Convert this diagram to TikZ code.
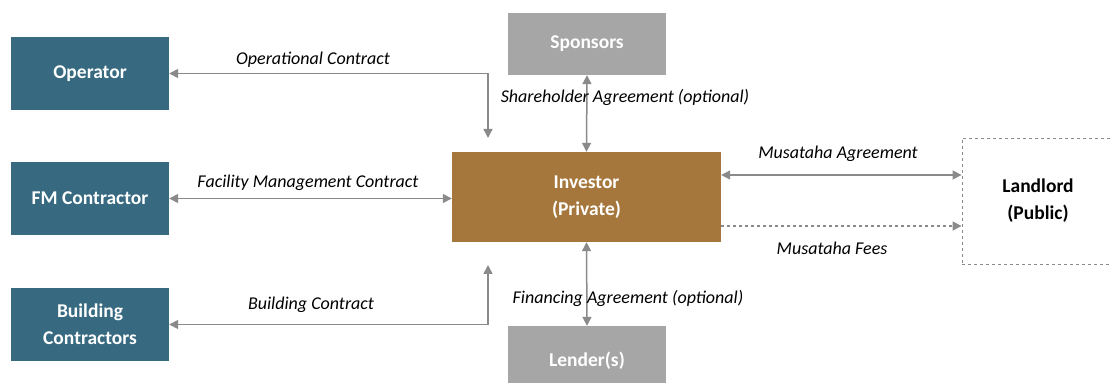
\documentclass[tikz,border=0pt]{standalone}
\usepackage{fontspec}
\setmainfont{Carlito}
\usetikzlibrary{arrows.meta}
\definecolor{teal}{HTML}{376A80}
\definecolor{bronze}{HTML}{A5773C}
\definecolor{boxgrey}{HTML}{A6A6A6}
\definecolor{linegrey}{HTML}{8A8A8A}
\tikzset{
    party/.style={fill=teal, text=white, font=\fontsize{19.5}{27}\selectfont\bfseries,
        minimum width=158pt, minimum height=73pt, inner sep=0pt, align=center},
    side/.style={fill=boxgrey, text=white, font=\fontsize{19.5}{27}\selectfont\bfseries,
        minimum width=158pt, minimum height=62pt, inner sep=0pt},
    deal/.style={font=\fontsize{18}{21}\selectfont\itshape, inner sep=0pt},
    link/.style={draw=linegrey, line width=1.5pt, {Triangle[length=9pt,width=9pt]}-{Triangle[length=9pt,width=9pt]}},
}
\begin{document}
\begin{tikzpicture}[x=1pt, y=1pt]
    \useasboundingbox (0, 0) rectangle (1112, 383);
    \node[party] (operator) at (90, 309.5) {Operator};
    \node[party] (fm) at (90, 184.5) {FM Contractor};
    \node[party] (building) at (90, 58.5) {Building\\Contractors};
    \node[side] (sponsors) at (587, 339) {Sponsors};
    \node[side, minimum height=70pt] (lender) at (587, 22) {Lender(s)};
    \node[fill=bronze, text=white, font=\fontsize{19.5}{27}\selectfont\bfseries, align=center,
        minimum width=269pt, minimum height=90pt, inner sep=0pt] (investor) at (586.5, 186) {Investor\\(Private)};
    \node[draw=linegrey, dashed, line width=0.9pt, font=\fontsize{19.5}{27}\selectfont\bfseries, align=center,
        minimum width=152pt, minimum height=126pt, inner sep=0pt] (landlord) at (1038, 182) {Landlord\\(Public)};
    \coordinate (opend) at (488, 245);
    \coordinate (bcend) at (488, 118);
    \draw[link] (operator.east) -| (opend);
    \draw[link] (fm.east) -- (fm.east -| investor.west);
    \draw[link] (building.east) -| (bcend);
    \draw[link] (sponsors.south) -- (investor.north);
    \draw[link] (investor.south) -- (lender.north);
    \draw[link] ([yshift=22pt]investor.east) -- ([yshift=22pt]investor.east -| landlord.west);
    \draw[link, dashed, {-Triangle[length=9pt,width=9pt]}] ([yshift=-29pt]investor.east) -- ([yshift=-29pt]investor.east -| landlord.west);
    \node[deal] (opdeal) at (313, 323) {Operational Contract};
    \node[deal] (fmdeal) at (308, 200) {Facility Management Contract};
    \node[deal] (bcdeal) at (311, 78) {Building Contract};
    \node[deal] (shdeal) at (625, 286) {Shareholder Agreement (optional)};
    \node[deal] (findeal) at (628, 85) {Financing Agreement (optional)};
    \node[deal] (musdeal) at (838, 229) {Musataha Agreement};
    \node[deal] (feedeal) at (832, 135) {Musataha Fees};
\end{tikzpicture}
\end{document}
